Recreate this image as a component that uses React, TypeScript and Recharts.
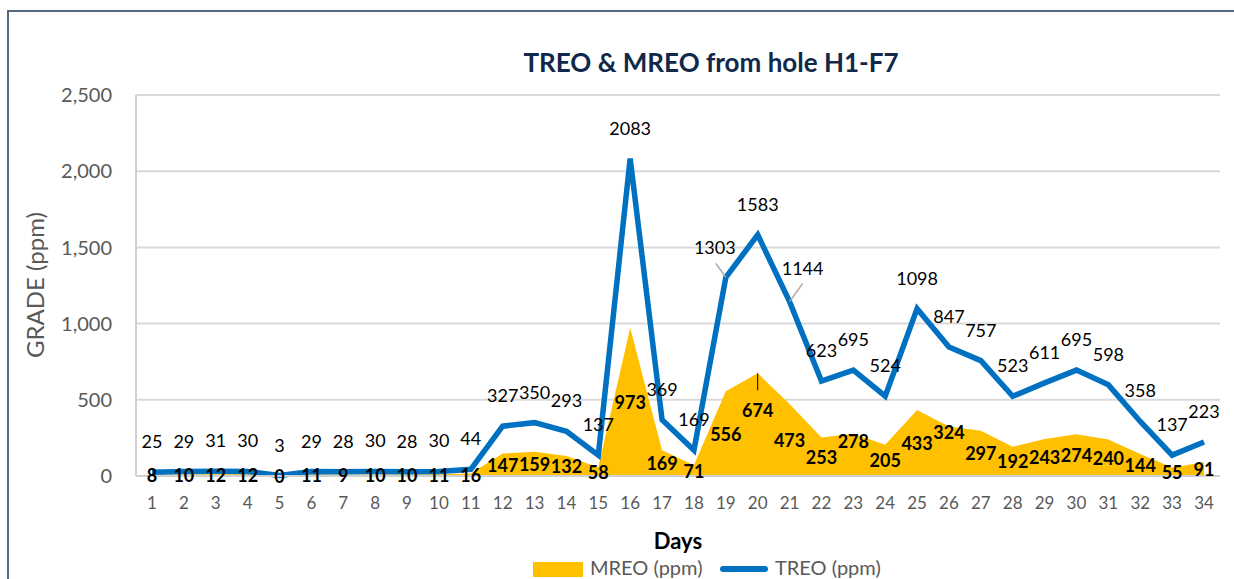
import React from "react";
import {
  ComposedChart,
  Area,
  Line,
  XAxis,
  YAxis,
  CartesianGrid,
  LabelList,
} from "recharts";

// ---- data ----
const DAYS = ["1","2","3","4","5","6","7","8","9","10","11","12","13","14","15","16","17","18","19","20","21","22","23","24","25","26","27","28","29","30","31","32","33","34"];
const TREO = [25,29,31,30,3,29,28,30,28,30,44,327,350,293,137,2083,369,169,1303,1583,1144,623,695,524,1098,847,757,523,611,695,598,358,137,223];
const MREO = [8,10,12,12,0,11,9,10,10,11,16,147,159,132,58,973,169,71,556,674,473,253,278,205,433,324,297,192,243,274,240,144,55,91];
const Y_TICKS = [0,500,1000,1500,2000,2500];

const data = DAYS.map((d, i) => ({ day: d, treo: TREO[i], mreo: MREO[i] }));

// ---- layout / style ----
const W = 1234;
const H = 579;
const PLOT_BOTTOM = 476;
const FONT = "Lato, 'Open Sans', sans-serif";
const BLUE = "#0070C0";
const GOLD = "#FFC000";
const GRAY_TEXT = "#595959";

const TreoLabel = (props: any) => {
  const { x, y, value, index } = props;
  let dx = 0;
  let dy = -31;
  let leader: React.ReactNode = null;
  if (index === 18) {
    dx = -11;
    dy = -30;
    leader = <line x1={x - 10} y1={y - 14} x2={x} y2={y} stroke="#a6a6a6" strokeWidth={1.5} />;
  } else if (index === 20) {
    dx = 13;
    dy = -34;
    leader = <line x1={x + 13} y1={y - 18} x2={x} y2={y} stroke="#a6a6a6" strokeWidth={1.5} />;
  }
  return (
    <g>
      {leader}
      <text x={x + dx} y={y + dy} textAnchor="middle" dominantBaseline="central" fontSize={18} fill="#000" fontFamily={FONT}>
        {value}
      </text>
    </g>
  );
};

const MREO_NUDGE: Record<number, number> = { 19: -15, 22: -14, 25: -19 };

const MreoLabel = (props: any) => {
  const { x, y, value, index } = props;
  const mid = (y + PLOT_BOTTOM) / 2 + (MREO_NUDGE[index] ?? 0);
  return (
    <g>
      {index === 19 ? <line x1={x} y1={y} x2={x} y2={y + 17} stroke="#000" strokeWidth={1} /> : null}
      <text x={x} y={mid} textAnchor="middle" dominantBaseline="central" fontSize={18} fontWeight={700} fill="#000" fontFamily={FONT}>
        {value}
      </text>
    </g>
  );
};

export default function App() {
  return (
    <div style={{ position: "fixed", left: 0, top: 0, width: W, height: H, overflow: "hidden", background: "#fff", fontFamily: FONT }}>
      <div style={{ position: "absolute", left: 7, top: 10, width: 1400, height: 800, borderLeft: "2px solid #56687e", borderTop: "2px solid #56687e", boxSizing: "border-box" }} />
      <div style={{ position: "absolute", left: 411, width: 600, top: 48, textAlign: "center", fontSize: 26, lineHeight: "28px", fontWeight: 700, color: "#10284a" }}>
        TREO &amp; MREO from hole H1-F7
      </div>
      <div style={{ position: "absolute", left: 35 - 100, top: 285 - 15, width: 200, height: 30, lineHeight: "30px", textAlign: "center", transform: "rotate(-90deg)", fontSize: 24, color: GRAY_TEXT }}>
        GRADE (ppm)
      </div>
      <div style={{ position: "absolute", left: 0, top: 0 }}>
        <ComposedChart width={W} height={H} data={data} margin={{ top: 95, right: 14, left: 76, bottom: 73 }}>
          <CartesianGrid vertical={false} stroke="#d9d9d9" strokeWidth={2} />
          <XAxis
            dataKey="day"
            height={30}
            padding={{ left: 16, right: 16 }}
            tickLine={false}
            tickSize={0}
            tickMargin={21}
            axisLine={{ stroke: "#d0d0d0", strokeWidth: 2 }}
            tick={{ fill: GRAY_TEXT, fontSize: 17, fontFamily: FONT }}
            interval={0}
          />
          <YAxis
            width={60}
            domain={[0, 2500]}
            ticks={Y_TICKS}
            tickLine={false}
            tickSize={0}
            tickMargin={24}
            axisLine={{ stroke: "#d0d0d0", strokeWidth: 2 }}
            tick={{ fill: GRAY_TEXT, fontSize: 20, fontFamily: FONT }}
            tickFormatter={(v: number) => v.toLocaleString("en-US")}
          />
          <Area dataKey="mreo" type="linear" fill={GOLD} fillOpacity={1} stroke="none" isAnimationActive={false} />
          <Line dataKey="treo" type="linear" stroke={BLUE} strokeWidth={5.5} dot={false} activeDot={false} isAnimationActive={false}>
            <LabelList dataKey="treo" content={TreoLabel} />
          </Line>
          <Line dataKey="mreo" type="linear" stroke="none" dot={false} activeDot={false} isAnimationActive={false}>
            <LabelList dataKey="mreo" content={MreoLabel} />
          </Line>
        </ComposedChart>
      </div>
      <div style={{ position: "absolute", left: 628, top: 528, width: 100, textAlign: "center", fontSize: 22, lineHeight: "26px", fontWeight: 700, color: "#000" }}>
        Days
      </div>
      <div style={{ position: "absolute", left: 533, top: 562, width: 50, height: 15, background: GOLD }} />
      <div style={{ position: "absolute", left: 590, top: 557, fontSize: 20, lineHeight: "20px", color: GRAY_TEXT, whiteSpace: "nowrap" }}>
        MREO (ppm)
      </div>
      <div style={{ position: "absolute", left: 720, top: 566, width: 48, height: 6, borderRadius: 3, background: BLUE }} />
      <div style={{ position: "absolute", left: 775, top: 557, fontSize: 20, lineHeight: "20px", color: GRAY_TEXT, whiteSpace: "nowrap" }}>
        TREO (ppm)
      </div>
    </div>
  );
}
